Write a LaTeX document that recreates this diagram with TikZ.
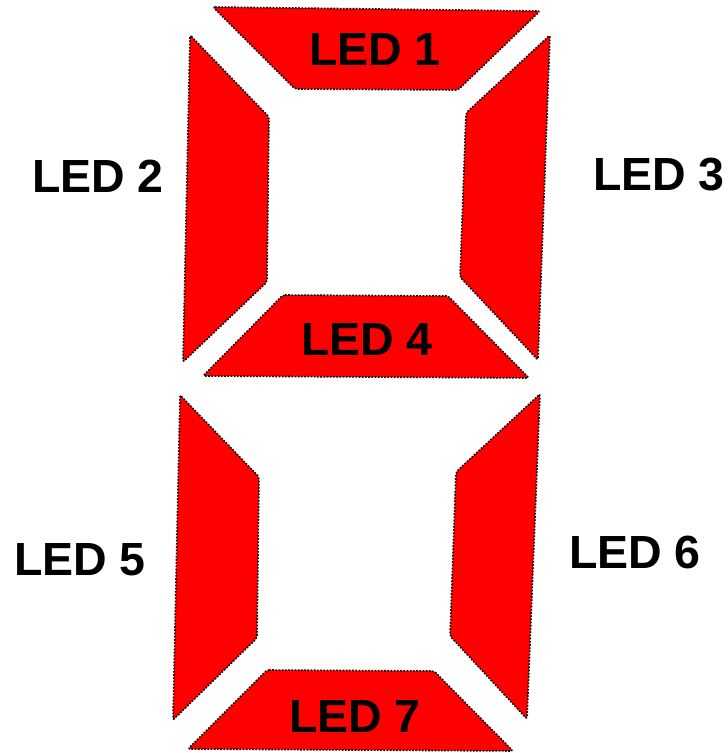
\documentclass[tikz,border=0pt]{standalone}
\usepackage{fontspec}
\setmainfont{Liberation Sans}
\begin{document}
\begin{tikzpicture}[x=1pt,y=-1pt,
  seg/.style={fill={rgb,255:red,255;green,0;blue,0}, draw=black, line width=1.6pt,
    dash pattern=on 1.7pt off 1.5pt, line join=round, rounded corners=2pt},
  lbl/.style={anchor=base, inner sep=0pt, font=\fontsize{46.5}{46.5}\selectfont\bfseries, text=black}]
\useasboundingbox (0,0) rectangle (728,753);
% LED 1
\path[seg] (213,7) -- (540,11) -- (458,90) -- (295,89) -- cycle;
% LED 2
\path[seg] (190,35) -- (269,117) -- (267,282) -- (183,362) -- cycle;
% LED 3
\path[seg] (550,35) -- (466,113) -- (460,277) -- (538,360) -- cycle;
% LED 4
\path[seg] (283,295) -- (448,296) -- (529,378) -- (203,376) -- cycle;
% LED 5
\path[seg] (180,395) -- (259,477) -- (257,638) -- (173,720) -- cycle;
% LED 6
\path[seg] (540,394) -- (456,472) -- (450,636) -- (527,719) -- cycle;
% LED 7
\path[seg] (267,670) -- (434,671) -- (513,751) -- (188,749) -- cycle;
% labels
\node[lbl] (l1) at (375,65) {LED 1};
\node[lbl] (l2) at (98,192) {LED 2};
\node[lbl] (l3) at (659,190) {LED 3};
\node[lbl] (l4) at (367,355) {LED 4};
\node[lbl] (l5) at (80,575) {LED 5};
\node[lbl] (l6) at (635,568) {LED 6};
\node[lbl] (l7) at (355,732) {LED 7};
\end{tikzpicture}
\end{document}
